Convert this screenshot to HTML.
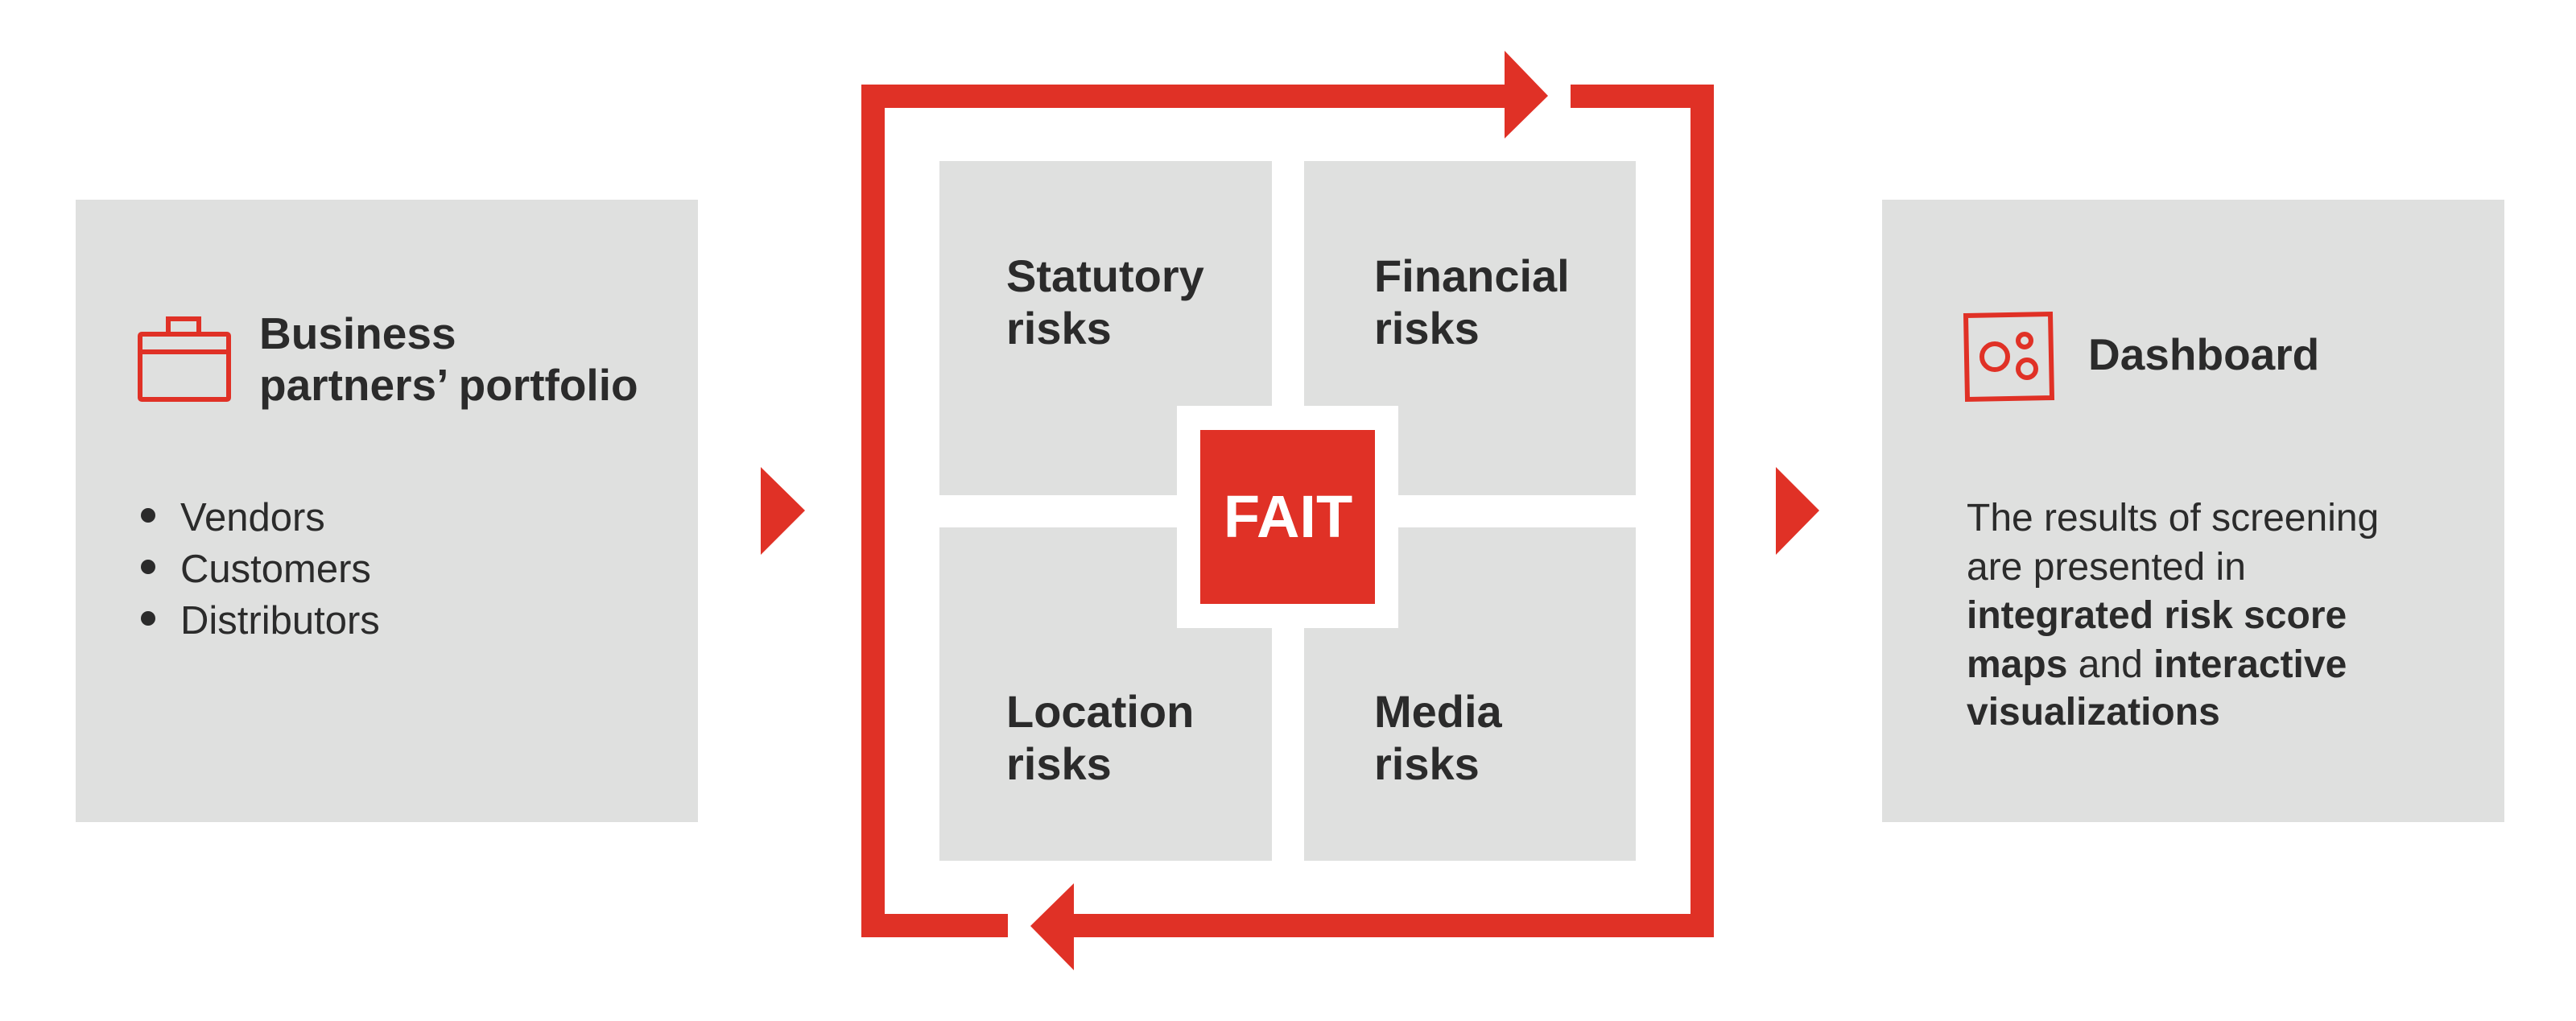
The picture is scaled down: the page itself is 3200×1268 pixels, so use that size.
<!DOCTYPE html>
<html><head><meta charset="utf-8"><style>
html,body{margin:0;padding:0;background:#fff;}
svg{display:block;}
text{font-family:"Liberation Sans",Arial,sans-serif;fill:#2b2b2b;}
.b{font-weight:bold;}
</style></head><body>
<svg width="3200" height="1268" viewBox="0 0 3200 1268" xmlns="http://www.w3.org/2000/svg">
<rect width="3200" height="1268" fill="#fff"/>
<!-- Left panel -->
<rect x="94" y="248" width="773" height="773" fill="#dfe0df"/>
<g fill="none" stroke="#e03126" stroke-width="6">
<rect x="174" y="415" width="110" height="81" rx="2"/>
<line x1="174" y1="437" x2="284" y2="437"/>
<path d="M209 414 V396 H247 V414"/>
</g>
<text class="b" x="322" y="433" font-size="55">Business</text>
<text class="b" x="322" y="497" font-size="55">partners’ portfolio</text>
<circle cx="184" cy="640" r="9" fill="#2b2b2b"/>
<circle cx="184" cy="704" r="9" fill="#2b2b2b"/>
<circle cx="184" cy="768" r="9" fill="#2b2b2b"/>
<text x="224" y="659" font-size="49">Vendors</text>
<text x="224" y="723" font-size="49">Customers</text>
<text x="224" y="787" font-size="49">Distributors</text>
<polygon points="945,580 1000,634 945,689" fill="#e03126"/>

<!-- Center loop -->
<g fill="#e03126">
<rect x="1070" y="105" width="29" height="1059"/>
<rect x="1070" y="105" width="800" height="29"/>
<polygon points="1869,63 1923,119 1869,172"/>
<rect x="1951" y="105" width="178" height="29"/>
<rect x="2100" y="105" width="29" height="1059"/>
<rect x="1334" y="1135" width="795" height="29"/>
<polygon points="1334,1097 1280,1150 1334,1205"/>
<rect x="1070" y="1135" width="182" height="29"/>
</g>
<g fill="#dfe0df">
<rect x="1167" y="200" width="413" height="415"/>
<rect x="1620" y="200" width="412" height="415"/>
<rect x="1167" y="655" width="413" height="414"/>
<rect x="1620" y="655" width="412" height="414"/>
</g>
<rect x="1462" y="504" width="275" height="276" fill="#fff"/>
<rect x="1491" y="534" width="217" height="216" fill="#e03126"/>
<text class="b" x="1600" y="667" font-size="74" text-anchor="middle" style="fill:#fff">FAIT</text>
<g font-size="56">
<text class="b" x="1250" y="362">Statutory</text>
<text class="b" x="1250" y="427">risks</text>
<text class="b" x="1707" y="362">Financial</text>
<text class="b" x="1707" y="427">risks</text>
<text class="b" x="1250" y="903">Location</text>
<text class="b" x="1250" y="968">risks</text>
<text class="b" x="1707" y="903">Media</text>
<text class="b" x="1707" y="968">risks</text>
</g>

<polygon points="2206,580 2260,634 2206,689" fill="#e03126"/>
<!-- Right panel -->
<rect x="2338" y="248" width="773" height="773" fill="#dfe0df"/>
<g fill="none" stroke="#e03126" stroke-width="6">
<path d="M2442 392 L2547 390 L2549 494 L2444 496 Z"/>
<circle cx="2478" cy="443" r="16"/>
<circle cx="2515" cy="423" r="8"/>
<circle cx="2518" cy="458" r="11"/>
</g>
<text class="b" x="2594" y="459" font-size="55">Dashboard</text>
<g font-size="48">
<text x="2443" y="659">The results of screening</text>
<text x="2443" y="720">are presented in</text>
<text x="2443" y="780" class="b">integrated risk score</text>
<text x="2443" y="841"><tspan font-weight="bold">maps</tspan> and <tspan font-weight="bold">interactive</tspan></text>
<text x="2443" y="900" class="b">visualizations</text>
</g>
</svg>
</body></html>
